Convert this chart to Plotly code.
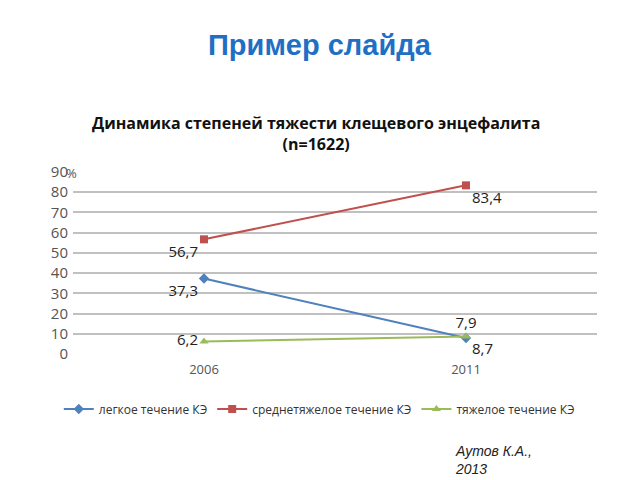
import plotly.graph_objects as go

years = ["2006", "2011"]
light = [37.3, 7.9]
medium = [56.7, 83.4]
severe = [6.2, 8.7]
names = ["легкое течение КЭ", "среднетяжелое течение КЭ", "тяжелое течение КЭ"]
y_ticks = [0, 10, 20, 30, 40, 50, 60, 70, 80, 90]

def fmt(v):
    return f"{v:.1f}".replace(".", ",")

fig = go.Figure()
series = [
    (names[0], light, "#4F81BD", "diamond", ["bottom left", "top center"]),
    (names[1], medium, "#C0504D", "square", ["bottom left", "bottom right"]),
    (names[2], severe, "#9BBB59", "triangle-up", ["middle left", "bottom right"]),
]
for name, vals, color, sym, pos in series:
    fig.add_trace(go.Scatter(
        x=years, y=vals, name=name, mode="lines+markers+text",
        line=dict(color=color, width=2),
        marker=dict(symbol=sym, size=8, color=color),
        text=[fmt(v) for v in vals], textposition=pos,
        textfont=dict(size=15, color="#222222", family="Open Sans"),
        cliponaxis=False,
    ))

H = 480 - 172 - 126
def py(p):
    return (480 - 126 - p) / H
def px(p):
    return (p - 73) / 524

fig.update_layout(
    width=640, height=480,
    paper_bgcolor="white", plot_bgcolor="white",
    margin=dict(l=73, r=43, t=172, b=126, autoexpand=False),
    font=dict(family="Open Sans", color="#555555"),
    showlegend=True,
    legend=dict(orientation="h", x=0.47, xanchor="center", y=py(409), yanchor="middle",
                font=dict(size=12, color="#333333"), tracegroupgap=0),
    xaxis=dict(type="category", range=[-0.5, 1.5], showgrid=False, zeroline=False,
               showline=False, tickfont=dict(size=13, color="#555555"), ticks="",
               ticklabelstandoff=6),
    yaxis=dict(range=[0, 90], tickvals=y_ticks, showgrid=True, gridcolor="#C0C0C0",
               gridwidth=1.5, zeroline=False, showline=False,
               tickfont=dict(size=15, color="#555555"), ticklabelstandoff=4),
)
fig.add_shape(type="line", xref="paper", x0=0, x1=1, yref="y", y0=40, y1=40,
              line=dict(color="#909090", width=2), layer="below")

fig.add_annotation(text="<b>Пример слайда</b>", xref="paper", yref="paper",
                   x=px(320), xanchor="center", y=py(45), yanchor="middle",
                   showarrow=False, font=dict(size=29, color="#1F6FC5", family="Liberation Sans"))
fig.add_annotation(text="<b>Динамика степеней тяжести клещевого энцефалита<br>(n=1622)</b>",
                   xref="paper", yref="paper", x=px(316), xanchor="center",
                   y=py(133), yanchor="middle", showarrow=False,
                   font=dict(size=16, color="#111111", family="Open Sans"))
fig.add_annotation(text="%", xref="paper", yref="paper", x=px(71), xanchor="center",
                   y=py(173), yanchor="middle", showarrow=False,
                   font=dict(size=13, color="#555555"))
fig.add_annotation(text="<i>Аутов К.А.,<br>2013</i>", xref="paper", yref="paper",
                   x=px(453), xanchor="left", y=py(460),
                   yanchor="middle", showarrow=False, align="left",
                   font=dict(size=14, color="#222222", family="Liberation Sans"))

fig.write_html("out.html", config={"displayModeBar": False},
               post_script="document.body.style.margin='0';document.body.style.overflow='hidden';")
